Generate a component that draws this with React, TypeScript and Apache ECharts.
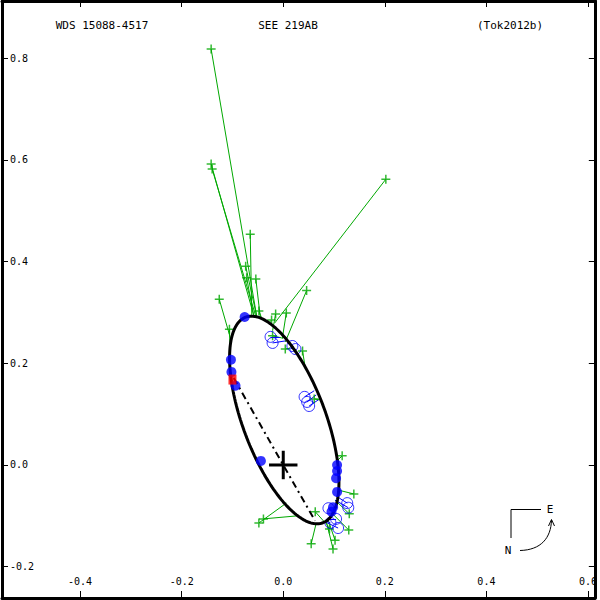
import React, { useEffect, useRef } from "react";
import * as echarts from "echarts";

// ---- axes ----
const X_MIN = -0.5538;
const X_MAX = 0.6135;
const Y_MIN = -0.2616;
const Y_MAX = 0.9125;
const X_TICKS = [-0.4, -0.2, 0.0, 0.2, 0.4, 0.6];
const Y_TICKS = [-0.2, 0.0, 0.2, 0.4, 0.6, 0.8];

// ---- titles ----
const TITLE_LEFT = "WDS 15088-4517";
const TITLE_MID = "SEE 219AB";
const TITLE_RIGHT = "(Tok2012b)";

// ---- orbit (apparent ellipse, arcsec) ----
const ORBIT_CENTER = [0.002, 0.0885];
const ORBIT_SEMI_AXES = [0.216, 0.0815];
const ORBIT_ANGLE_DEG = -69.4;
const NODE_LINE = [
  [-0.0975, 0.171],
  [0.0625, -0.1096],
];
const PRIMARY = [0, 0];

// ---- visual micrometer measures (green) and their orbit positions ----
const GREEN_OBS = [
  [-0.142, 0.818], [-0.142, 0.592], [-0.14, 0.582], [0.202, 0.562],
  [-0.065, 0.454], [-0.074, 0.391], [-0.072, 0.368], [-0.054, 0.366],
  [-0.126, 0.326], [-0.106, 0.267], [0.046, 0.343], [0.006, 0.299],
  [-0.015, 0.297], [-0.048, 0.303], [-0.023, 0.285], [-0.021, 0.254],
  [0.004, 0.228], [0.038, 0.224], [0.061, 0.13], [0.116, 0.018],
  [0.139, -0.057], [0.13, -0.096], [0.129, -0.128], [0.063, -0.092],
  [0.055, -0.155], [0.098, -0.165], [0.102, -0.148], [0.091, -0.126],
  [-0.048, -0.114], [-0.039, -0.106],
];
const GREEN_FIT = [
  [-0.052, 0.291], [-0.058, 0.294], [-0.054, 0.292], [-0.017, 0.279],
  [-0.062, 0.295], [-0.052, 0.291], [-0.058, 0.293], [-0.045, 0.289],
  [-0.103, 0.246], [-0.105, 0.236], [0.004, 0.242], [-0.002, 0.248],
  [-0.021, 0.264], [-0.041, 0.285], [-0.029, 0.279], [-0.003, 0.25],
  [0.014, 0.23], [0.044, 0.187], [0.071, 0.128], [0.104, 0.006],
  [0.107, -0.049], [0.102, -0.069], [0.095, -0.094], [0.081, -0.112],
  [0.065, -0.114], [0.085, -0.112], [0.089, -0.11], [0.083, -0.112],
  [0.006, -0.075], [0.028, -0.1],
];

// ---- other measures (blue open circles) ----
const OPEN_OBS = [
  [-0.025, 0.252], [-0.021, 0.24], [0.018, 0.234], [0.024, 0.228],
  [0.042, 0.134], [0.047, 0.124], [0.051, 0.116],
  [0.126, -0.075], [0.128, -0.084], [0.089, -0.085], [0.104, -0.106],
  [0.108, -0.124], [0.093, -0.114],
];
const OPEN_FIT = [
  [-0.007, 0.252], [0.004, 0.244], [0.016, 0.228], [0.02, 0.224],
  [0.061, 0.146], [0.065, 0.138], [0.069, 0.128],
  [0.104, -0.061], [0.102, -0.069], [0.097, -0.092], [0.089, -0.106],
  [0.083, -0.112], [0.085, -0.11],
];

// ---- speckle measures (blue filled) ----
const SPECKLE = [
  [-0.076, 0.291], [-0.103, 0.207], [-0.102, 0.183], [-0.094, 0.156],
  [-0.044, 0.008], [0.106, 0.0], [0.106, -0.012], [0.104, -0.026],
  [0.106, -0.053], [0.098, -0.083], [0.095, -0.092],
];

// ---- Hipparcos (red) ----
const HIPPARCOS = [[-0.1, 0.168]];

const GREEN = "#00a800";
const BLUE = "#0000ff";
const RED = "#ff0000";
const FONT = "DejaVu Sans Mono";

function orbitPoints() {
  const pts: number[][] = [];
  const t = (ORBIT_ANGLE_DEG * Math.PI) / 180;
  const ux = Math.cos(t);
  const uy = Math.sin(t);
  for (let i = 0; i <= 360; i += 2) {
    const e = (i * Math.PI) / 180;
    const p = ORBIT_SEMI_AXES[0] * Math.cos(e);
    const q = ORBIT_SEMI_AXES[1] * Math.sin(e);
    pts.push([ORBIT_CENTER[0] + p * ux - q * uy, ORBIT_CENTER[1] + p * uy + q * ux]);
  }
  return pts;
}

function pairs(a: number[][], b: number[][]) {
  return a.map((p, i) => ({ coords: [p, b[i]] }));
}

const fmt = (v: number) => (Math.abs(v) < 1e-9 ? "0.0" : v.toFixed(1));

export default function App() {
  const ref = useRef<HTMLDivElement>(null);
  useEffect(() => {
    if (!ref.current) return;
    const chart = echarts.init(ref.current, undefined, { renderer: "svg" });
    const axisLine = { show: true, onZero: false, lineStyle: { color: "#000", width: 3 } };
    const cross = 0.028;
    chart.setOption({
      animation: false,
      backgroundColor: "#fff",
      grid: { left: 2, right: 2, top: 1, bottom: 2, containLabel: false },
      xAxis: [
        {
          type: "value", min: X_MIN, max: X_MAX, position: "bottom",
          axisLine,
          axisTick: { show: true, inside: true, length: 7, customValues: X_TICKS, lineStyle: { color: "#000", width: 1 } },
          axisLabel: { show: true, inside: true, margin: 12, customValues: X_TICKS, formatter: fmt, fontFamily: FONT, fontSize: 10, color: "#000" },
          splitLine: { show: false },
        },
        {
          type: "value", min: X_MIN, max: X_MAX, position: "top",
          axisLine,
          axisTick: { show: true, inside: true, length: 6, customValues: X_TICKS, lineStyle: { color: "#000", width: 1 } },
          axisLabel: { show: false },
          splitLine: { show: false },
        },
      ],
      yAxis: [
        {
          type: "value", min: Y_MIN, max: Y_MAX, position: "left",
          axisLine,
          axisTick: { show: true, inside: true, length: 6, customValues: Y_TICKS, lineStyle: { color: "#000", width: 1 } },
          axisLabel: { show: true, inside: true, margin: 8, customValues: Y_TICKS, formatter: fmt, fontFamily: FONT, fontSize: 10, color: "#000" },
          splitLine: { show: false },
        },
        {
          type: "value", min: Y_MIN, max: Y_MAX, position: "right",
          axisLine,
          axisTick: { show: true, inside: true, length: 6, customValues: Y_TICKS, lineStyle: { color: "#000", width: 1 } },
          axisLabel: { show: false },
          splitLine: { show: false },
        },
      ],
      graphic: [
        { type: "text", x: 102, y: 25, style: { text: TITLE_LEFT, font: `11px "${FONT}"`, fill: "#000", textAlign: "center", textVerticalAlign: "middle" } },
        { type: "text", x: 288, y: 25, style: { text: TITLE_MID, font: `11px "${FONT}"`, fill: "#000", textAlign: "center", textVerticalAlign: "middle" } },
        { type: "text", x: 510, y: 25, style: { text: TITLE_RIGHT, font: `11px "${FONT}"`, fill: "#000", textAlign: "center", textVerticalAlign: "middle" } },
        { type: "polyline", shape: { points: [[541, 509.5], [511, 509.5], [511, 538]] }, style: { stroke: "#000", lineWidth: 1, fill: null } },
        { type: "text", x: 550, y: 509, style: { text: "E", font: `11px "${FONT}"`, fill: "#000", textAlign: "center", textVerticalAlign: "middle" } },
        { type: "text", x: 508, y: 550, style: { text: "N", font: `11px "${FONT}"`, fill: "#000", textAlign: "center", textVerticalAlign: "middle" } },
        { type: "bezierCurve", shape: { x1: 520, y1: 550.5, cpx1: 541, cpy1: 550, cpx2: 551, cpy2: 538, x2: 551.5, y2: 520 }, style: { stroke: "#000", lineWidth: 1, fill: null } },
        { type: "polyline", shape: { points: [[548.5, 526], [551.5, 519.5], [554.5, 526]] }, style: { stroke: "#000", lineWidth: 1, fill: null } },
      ],
      series: [
        {
          type: "lines", coordinateSystem: "cartesian2d", xAxisIndex: 0, yAxisIndex: 0,
          data: pairs(GREEN_OBS, GREEN_FIT), lineStyle: { color: GREEN, width: 1, opacity: 1 }, z: 2,
        },
        {
          type: "scatter", xAxisIndex: 0, yAxisIndex: 0, data: GREEN_OBS,
          symbol: "path://M0 5 L10 5 M5 0 L5 10", symbolSize: 9,
          itemStyle: { color: "transparent", borderColor: GREEN, borderWidth: 1.5 }, z: 3,
        },
        {
          type: "lines", coordinateSystem: "cartesian2d", xAxisIndex: 0, yAxisIndex: 0,
          data: pairs(OPEN_OBS, OPEN_FIT), lineStyle: { color: BLUE, width: 1, opacity: 1 }, z: 3,
        },
        {
          type: "scatter", xAxisIndex: 0, yAxisIndex: 0, data: OPEN_OBS,
          symbol: "circle", symbolSize: 11,
          itemStyle: { color: "transparent", borderColor: BLUE, borderWidth: 1 }, z: 4,
        },
        {
          type: "line", xAxisIndex: 0, yAxisIndex: 0, data: orbitPoints(), showSymbol: false,
          lineStyle: { color: "#000", width: 3 }, z: 5,
        },
        {
          type: "line", xAxisIndex: 0, yAxisIndex: 0, data: NODE_LINE, showSymbol: false,
          lineStyle: { color: "#000", width: 2, type: [7, 4, 2, 4] }, z: 5,
        },
        {
          type: "line", xAxisIndex: 0, yAxisIndex: 0,
          data: [[PRIMARY[0] - cross, PRIMARY[1]], [PRIMARY[0] + cross, PRIMARY[1]]],
          showSymbol: false, lineStyle: { color: "#000", width: 3 }, z: 6,
        },
        {
          type: "line", xAxisIndex: 0, yAxisIndex: 0,
          data: [[PRIMARY[0], PRIMARY[1] - cross], [PRIMARY[0], PRIMARY[1] + cross]],
          showSymbol: false, lineStyle: { color: "#000", width: 3 }, z: 6,
        },
        {
          type: "scatter", xAxisIndex: 0, yAxisIndex: 0, data: SPECKLE,
          symbol: "circle", symbolSize: 10, itemStyle: { color: BLUE }, z: 7,
        },
        {
          type: "scatter", xAxisIndex: 0, yAxisIndex: 0, data: HIPPARCOS,
          symbol: "rect", symbolSize: [8, 10], itemStyle: { color: RED }, z: 8,
        },
      ],
    });
    return () => chart.dispose();
  }, []);
  return (
    <div
      ref={ref}
      style={{ position: "absolute", left: 0, top: 0, width: 600, height: 600, background: "#fff" }}
    />
  );
}
